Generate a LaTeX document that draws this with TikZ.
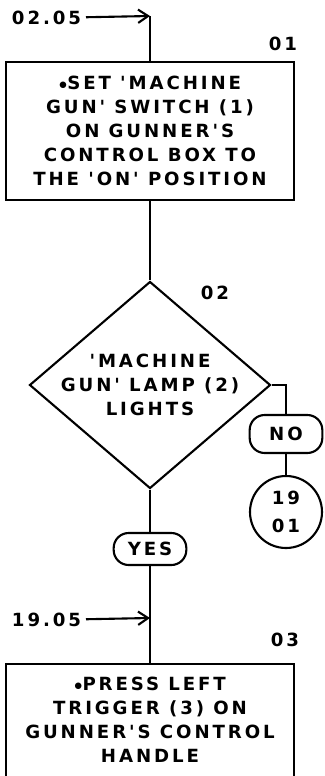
\documentclass[tikz,border=0pt]{standalone}
\usepackage{fontspec}
\newfontfamily\plotfont{DejaVu Sans Bold}[LetterSpace=16,Ligatures=TeXOff]
\usetikzlibrary{shapes.geometric,arrows.meta}

\begin{document}
\begin{tikzpicture}[x=0.03cm, y=-0.03cm, line width=1.8pt,
	every node/.style={font=\plotfont\fontsize{15.5}{20.5}\selectfont},
	stepbox/.style={draw, align=center, minimum width=8.64cm, inner sep=0pt},
	decision/.style={draw, diamond, minimum width=7.23cm, minimum height=6.21cm, inner sep=0pt},
	answer/.style={draw, rounded corners=0.45cm, minimum width=2.18cm, inner sep=0pt},
	offpage/.style={draw, circle, align=center, minimum size=2.16cm, inner sep=0pt},
	flow/.style={-{Straight Barb[length=3mm,width=4mm]}}]
	\useasboundingbox (0,0) rectangle (324,776);
	% entry from 02.05
	\node[anchor=east] (in0205) at (86,18) {02.05};
	\coordinate (top01) at (150,16);
	% step 01
	\node (num01) at (283,44) {01};
	\node[stepbox, minimum height=4.14cm] (step01) at (150,131)
		{$\bullet$SET 'MACHINE\\GUN' SWITCH (1)\\ON GUNNER'S\\CONTROL BOX TO\\THE 'ON' POSITION};
	% step 02
	\node (num02) at (215,293) {02};
	\node[decision, label={[align=center]center:{'MACHINE\\GUN' LAMP (2)\\LIGHTS}}] (lamp) at (150,385) {};
	\node[answer, minimum height=1.14cm] (no) at (286,434) {NO};
	\node[offpage] (goto1901) at (286,512) {19\\[3pt]01};
	\node[answer, minimum height=0.96cm] (yes) at (150,549) {YES};
	% entry from 19.05
	\node[anchor=east] (in1905) at (86,620) {19.05};
	\coordinate (join03) at (150,618);
	% step 03
	\node (num03) at (285,640) {03};
	\node[stepbox, anchor=north, inner ysep=11pt, text depth=1.2cm] (step03) at (150,663)
		{$\bullet$PRESS LEFT\\TRIGGER (3) ON\\GUNNER'S CONTROL\\HANDLE};
	% connectors
	\draw (top01) -- (step01.north);
	\draw[flow] (in0205) -- (top01);
	\draw (step01) -- (lamp);
	\draw (lamp.east) -| (no.north);
	\draw (no) -- (goto1901);
	\draw (lamp) -- (yes);
	\draw (yes) -- (step03);
	\draw[flow] (in1905) -- (join03);
\end{tikzpicture}
\end{document}
